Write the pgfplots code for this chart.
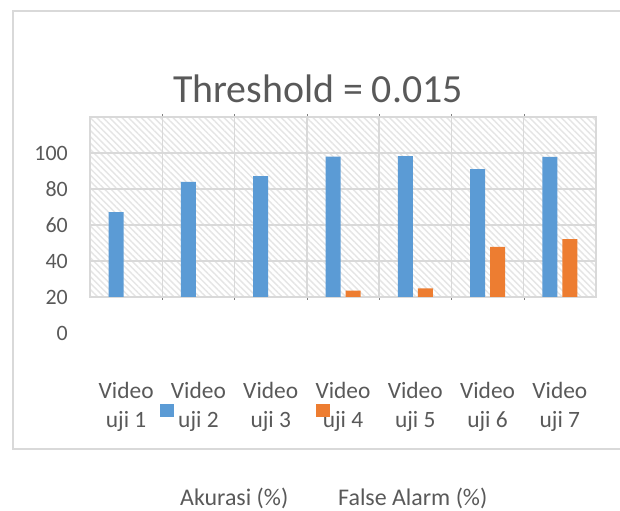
\documentclass[border=0pt]{standalone}
\usepackage{pgfplots}
\pgfplotsset{compat=1.18}
\usepackage{fontspec}
\setmainfont{Carlito}
\usetikzlibrary{patterns.meta}
\definecolor{cblue}{HTML}{5B9BD5}
\definecolor{corange}{HTML}{ED7D31}
\definecolor{ctext}{HTML}{595959}
\definecolor{cgrid}{HTML}{D9D9D9}
\begin{document}
\begin{tikzpicture}[x=1bp,y=1bp]
\useasboundingbox (0,0) rectangle (620,511);
% chart frame
\draw[cgrid, line width=1.5bp] (630,500) -- (13,500) -- (13,62) -- (630,62);
% title
\node[anchor=base, text=ctext, font=\fontsize{40}{46}\selectfont, inner sep=0pt] at (318,408) {Threshold = 0.015};
\begin{axis}[
  at={(90bp,214bp)}, anchor=south west,
  width=506bp, height=180bp, scale only axis,
  xmin=0.5, xmax=7.5, ymin=20, ymax=120,
  ybar, bar width=15bp,
  xtick={1,...,7},
  xticklabels={{Video\\uji 1},{Video\\uji 2},{Video\\uji 3},{Video\\uji 4},{Video\\uji 5},{Video\\uji 6},{Video\\uji 7}},
  xticklabel style={align=center, anchor=north, inner sep=0pt, yshift=-85bp, text=ctext, font=\fontsize{23.5}{29}\selectfont},
  ytick={20,40,60,80,100},
  yticklabel style={anchor=east, inner sep=0pt, xshift=-22bp, text=ctext, font=\fontsize{22}{26}\selectfont},
  /pgf/number format/assume math mode=true,
  major tick length=0pt,
  minor x tick num=1,
  xmajorgrids=false, xminorgrids=true, ymajorgrids=true,
  grid style={cgrid, line width=1.5bp},
  minor grid style={cgrid, line width=1.5bp},
  axis line style={cgrid, line width=1.5bp},
  axis background/.style={fill=white, postaction={pattern={Lines[angle=-45, distance=4.5bp, line width=1.4bp]}, pattern color=gray!20}},
  clip mode=individual,
]
\addplot[fill=cblue, draw=none, bar shift=-10bp] coordinates {(1,67.2) (2,83.9) (3,87.2) (4,98.0) (5,98.3) (6,91.1) (7,97.8)};
\addplot[fill=corange, draw=none, bar shift=10bp] coordinates {(4,23.6) (5,24.8) (6,47.8) (7,52.2)};
\node[anchor=east, inner sep=0pt, xshift=-22bp, text=ctext, font=\fontsize{22}{26}\selectfont] at (axis cs:0.5,0) {0};
\end{axis}
% legend (as laid out in the reference)
\fill[cblue] (160,94) rectangle (174,107);
\fill[corange] (316,94) rectangle (330,107);
\node[anchor=base west, inner sep=0pt, text=ctext, font=\fontsize{24}{28}\selectfont] at (180,5) {Akurasi (\%)};
\node[anchor=base west, inner sep=0pt, text=ctext, font=\fontsize{24}{28}\selectfont] at (338,5) {False Alarm (\%)};
\end{tikzpicture}
\end{document}
